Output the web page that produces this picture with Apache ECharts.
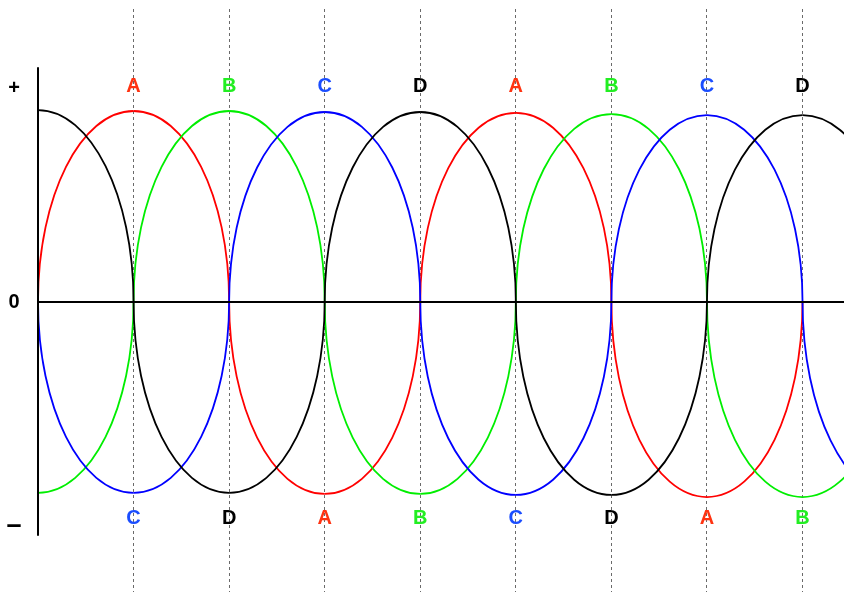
<!DOCTYPE html>
<html>
<head>
<meta charset="utf-8">
<script src="https://cdn.jsdelivr.net/npm/echarts@6/dist/echarts.min.js"></script>
<style>
html,body{margin:0;padding:0;background:#fff;}
#chart{width:844px;height:592px;}
</style>
</head>
<body>
<div id="chart"></div>
<script>
// ---- data ----
// each arc: [centre position (grid units), peak value]; an arc spans centre-1 .. centre+1
const phaseA = [[1, 0.979], [3, -0.989], [5, 0.969], [7, -1.005]];
const phaseB = [[0, -0.984], [2, 0.979], [4, -0.989], [6, 0.963], [8, -1.005]];
const phaseC = [[1, -0.984], [3, 0.974], [5, -0.994], [7, 0.958], [9, -1.01]];
const phaseD = [[0, 0.984], [2, -0.984], [4, 0.974], [6, -0.994], [8, 0.958]];
const gridPositions = [1, 2, 3, 4, 5, 6, 7, 8];
const topLabels = ['A', 'B', 'C', 'D', 'A', 'B', 'C', 'D'];
const bottomLabels = ['C', 'D', 'A', 'B', 'C', 'D', 'A', 'B'];
const topLabelValue = 1.104;
const bottomLabelValue = -1.113;
const yTickValues = [1.096, -0.004, -1.152];
const yTickLabels = ['+', '0', '\u2013'];

const lineColors = {A: '#ff0000', B: '#00ee00', C: '#0000ff', D: '#000000'};
const labelColors = {A: '#ff3311', B: '#22ee22', C: '#1a4dff', D: '#000000'};
const FONT = 'bold 20px "Liberation Sans", Arial, sans-serif';

function arcRenderer(color) {
  return function (params, api) {
    const c = api.value(0), pk = api.value(1);
    const p0 = api.coord([c - 1, 0]);
    const p1 = api.coord([c + 1, 0]);
    const pt = api.coord([c, pk]);
    const rx = (p1[0] - p0[0]) / 2;
    const dy = pt[1] - p0[1];
    const k = 0.5523;
    const style = {fill: 'none', stroke: color, lineWidth: 1.8};
    return {
      type: 'group',
      children: [
        {type: 'bezierCurve', shape: {x1: p0[0], y1: p0[1], cpx1: p0[0], cpy1: p0[1] + k * dy, cpx2: pt[0] - k * rx, cpy2: pt[1], x2: pt[0], y2: pt[1]}, style: style},
        {type: 'bezierCurve', shape: {x1: pt[0], y1: pt[1], cpx1: pt[0] + k * rx, cpy1: pt[1], cpx2: p1[0], cpy2: p1[1] + k * dy, x2: p1[0], y2: p1[1]}, style: style}
      ]
    };
  };
}

function arcSeries(name, data) {
  return {
    type: 'custom', name: name, xAxisIndex: 0, yAxisIndex: 0, clip: true,
    renderItem: arcRenderer(lineColors[name]), data: data, silent: true
  };
}

const labelData = [];
gridPositions.forEach(function (x, i) {
  labelData.push([x, topLabelValue, 0, i]);
  labelData.push([x, bottomLabelValue, 1, i]);
});

const chart = echarts.init(document.getElementById('chart'), null, {renderer: 'canvas'});
chart.setOption({
  animation: false,
  backgroundColor: '#ffffff',
  grid: [
    {left: 38, right: 0, top: 68, bottom: 57},
    {left: 38, right: 0, top: 9, bottom: 0}
  ],
  xAxis: [
    {gridIndex: 0, type: 'value', min: 0, max: 8.434, z: 10,
     axisLine: {show: true, onZero: true, lineStyle: {color: '#000', width: 2}},
     axisTick: {show: false}, axisLabel: {show: false}, splitLine: {show: false}},
    {gridIndex: 1, type: 'value', min: 0, max: 8.434, show: false}
  ],
  yAxis: [
    {gridIndex: 0, type: 'value', min: -1.2, max: 1.2, z: 10,
     axisLine: {show: true, lineStyle: {color: '#000', width: 2}},
     axisTick: {show: false}, splitLine: {show: false},
     axisLabel: {
       show: true, customValues: yTickValues, margin: 24, align: 'center', verticalAlign: 'middle',
       color: '#000', fontWeight: 'bold', fontSize: 20, fontFamily: '"Liberation Sans", Arial, sans-serif',
       formatter: function (v) {
         const i = yTickValues.indexOf(v);
         if (i < 0) return '';
         return i === 2 ? '{dash|' + yTickLabels[i] + '}' : yTickLabels[i];
       },
       rich: {dash: {fontSize: 27, fontWeight: 'bold', color: '#000', fontFamily: '"Liberation Sans", Arial, sans-serif'}}
     }},
    {gridIndex: 1, type: 'value', min: 0, max: 1, show: false}
  ],
  series: [
    {
      type: 'custom', xAxisIndex: 1, yAxisIndex: 1, silent: true, z: 1,
      data: gridPositions,
      renderItem: function (params, api) {
        const x = api.value(0);
        const a = api.coord([x, 0]);
        const b = api.coord([x, 1]);
        const px = Math.floor(a[0]) + 0.5;
        return {type: 'line', shape: {x1: px, y1: b[1], x2: px, y2: a[1]},
                style: {stroke: '#6a6a6a', lineWidth: 1, lineDash: [3, 3]}};
      }
    },
    arcSeries('A', phaseA),
    arcSeries('B', phaseB),
    arcSeries('C', phaseC),
    arcSeries('D', phaseD),
    {
      type: 'custom', xAxisIndex: 0, yAxisIndex: 0, silent: true, z: 5,
      data: labelData,
      renderItem: function (params, api) {
        const p = api.coord([api.value(0), api.value(1)]);
        const row = api.value(2), i = api.value(3);
        const t = row === 0 ? topLabels[i] : bottomLabels[i];
        return {type: 'text', x: p[0], y: p[1],
                style: {text: t, fill: labelColors[t], font: FONT, align: 'center', verticalAlign: 'middle'}};
      }
    }
  ]
});
</script>
</body>
</html>
